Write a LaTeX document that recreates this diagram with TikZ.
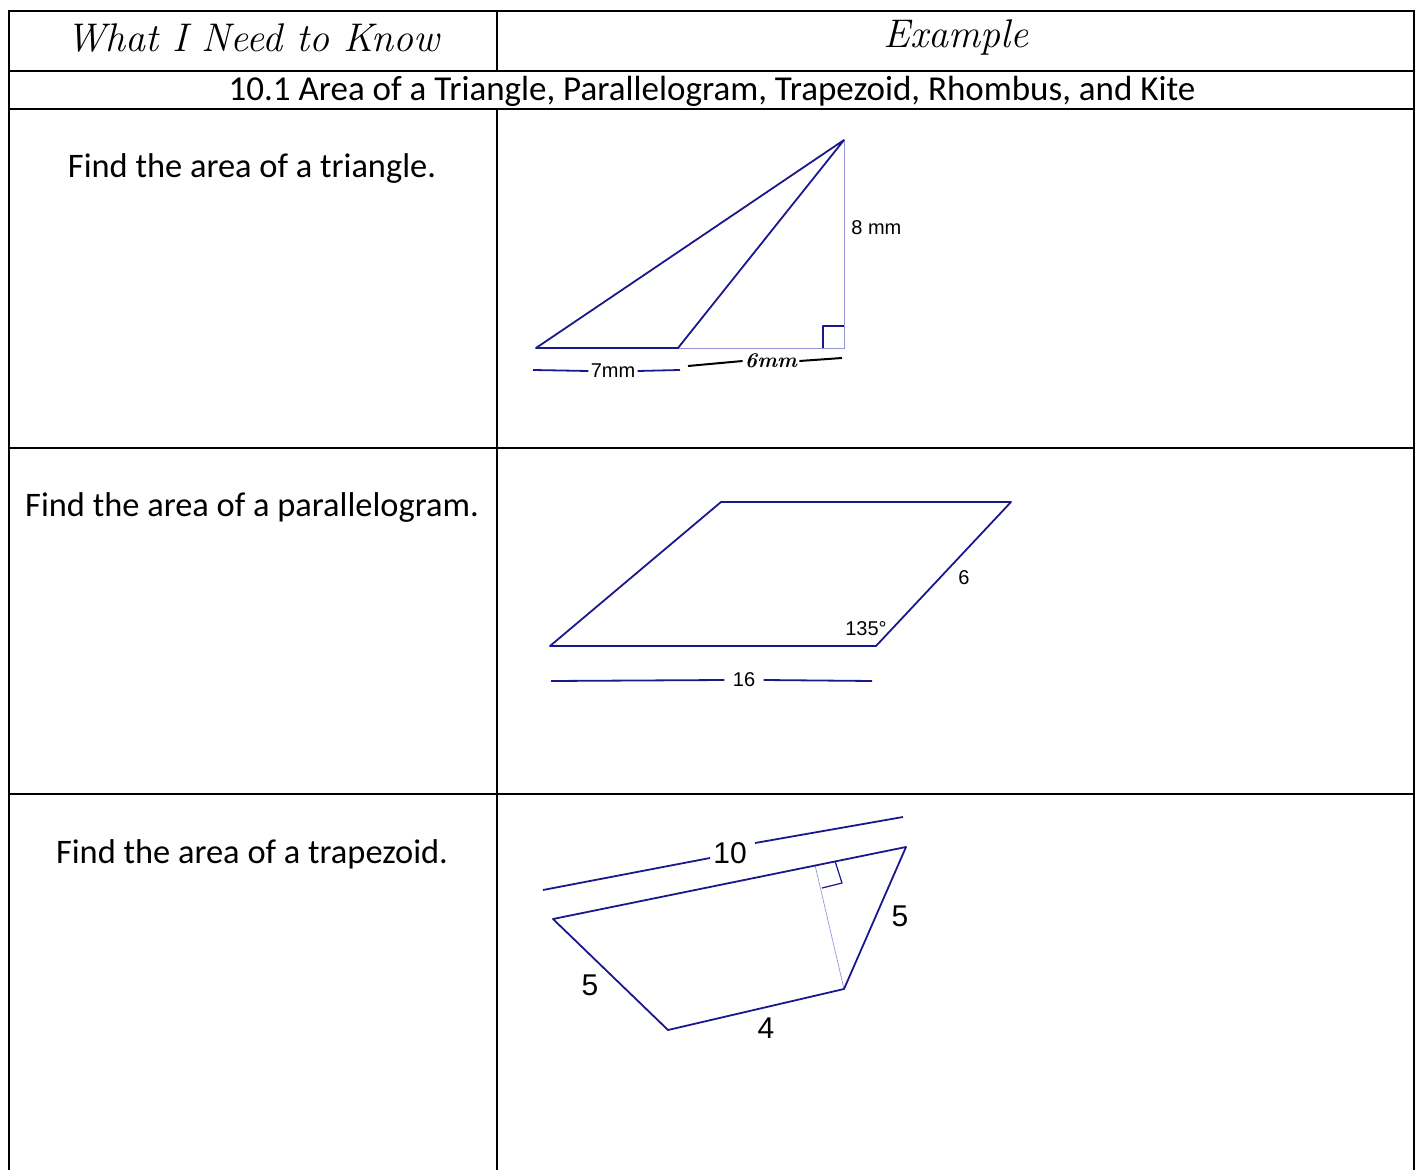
\documentclass[tikz,border=0pt]{standalone}
\usepackage{fontspec}
\usepackage{tikz}
\usetikzlibrary{positioning}
\newfontfamily\askfont{Carlito}
\newfontfamily\labelfont{Liberation Sans}
\definecolor{figblue}{RGB}{25, 25, 140}
\definecolor{helpblue}{RGB}{150, 150, 215}

\begin{document}
\begin{tikzpicture}[
    x=0.5pt, y=-0.5pt,
    gridline/.style={line width=0.8pt, black},
    figline/.style={line width=0.9pt, figblue, line join=round},
    helpline/.style={line width=0.35pt, helpblue},
    headtext/.style={font=\fontsize{20}{24}\selectfont\itshape},
    sectiontext/.style={font=\askfont\fontsize{17.5}{20}\selectfont},
    asktext/.style={font=\askfont\fontsize{17.2}{20}\selectfont},
    dimtext/.style={font=\labelfont\fontsize{10}{12}\selectfont, inner sep=1pt},
    bigdimtext/.style={font=\labelfont\fontsize{15}{18}\selectfont, inner sep=1pt},
    handtext/.style={font=\fontsize{10.5}{12}\selectfont\bfseries\itshape, inner sep=1pt}
]
\useasboundingbox (0,0) rectangle (1423,1170);

% table
\draw[gridline] (9,1170) -- (9,11) -- (1414,11) -- (1414,1170);
\foreach \y in {71,109,448,794}
  \draw[gridline] (9,\y) -- (1414,\y);
\draw[gridline] (497,11) -- (497,71);
\draw[gridline] (497,109) -- (497,1170);

\node[headtext] (knowhead) at (253,38) {What I Need to Know};
\node[headtext] (examplehead) at (956,38) {Example};
\node[sectiontext] (section) at (712,91) {10.1 Area of a Triangle, Parallelogram, Trapezoid, Rhombus, and Kite};

\node[asktext] (asktri) at (252,169) {Find the area of a triangle.};
\node[asktext] (askpar) at (252,508) {Find the area of a parallelogram.};
\node[asktext] (asktrap) at (252,854) {Find the area of a trapezoid.};

% triangle
\coordinate (ta) at (536,348);
\coordinate (tb) at (678,348);
\coordinate (tc) at (844,140);
\coordinate (tf) at (844,348);
\draw[helpline] (tb) -- (tf) -- (tc);
\draw[figline] (ta) -- (tb) -- (tc) -- cycle;
\draw[figline, line width=0.6pt] (823,348) -- (823,326) -- (844,326);
\node[dimtext, anchor=west] (theight) at (849,228) {8 mm};
\node[dimtext] (tbase) at (613,371) {7mm};
\draw[figline] (533,370) -- (tbase.west);
\draw[figline] (tbase.east) -- (680,370);
\node[handtext] (tgap) at (771,361) {6mm};
\draw[black, line width=1pt] (688,366) -- (tgap.west);
\draw[black, line width=1pt] (tgap.east) -- (842,358);

% parallelogram
\coordinate (pa) at (550,646);
\coordinate (pb) at (876,646);
\coordinate (pc) at (1011,502);
\coordinate (pd) at (721,502);
\draw[figline] (pa) -- (pb) -- (pc) -- (pd) -- cycle;
\node[dimtext] (pside) at (964,578) {6};
\node[dimtext] (pangle) at (866,629) {135°};
\node[dimtext, inner sep=4pt] (pbase) at (744,680) {16};
\draw[figline] (551,681) -- (pbase.west);
\draw[figline] (pbase.east) -- (872,681);

% trapezoid
\coordinate (za) at (553,919);
\coordinate (zb) at (906,847);
\coordinate (zc) at (844,989);
\coordinate (zd) at (668,1030);
\coordinate (zf) at (815,865);
\draw[helpline] (zc) -- (zf);
\draw[figline] (za) -- (zb) -- (zc) -- (zd) -- cycle;
\draw[figline, line width=0.6pt] (835,861) -- (842,883) -- (822,888);
\node[bigdimtext] (ztop) at (730,853) {10};
\draw[figline] (543,890) -- (710,858);
\draw[figline] (755,843) -- (903,817);
\node[bigdimtext] (zleft) at (590,985) {5};
\node[bigdimtext] (zright) at (900,916) {5};
\node[bigdimtext] (zbottom) at (766,1028) {4};

\end{tikzpicture}
\end{document}
